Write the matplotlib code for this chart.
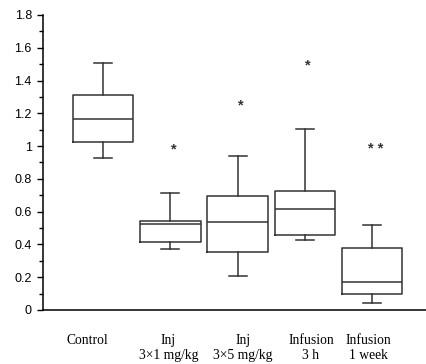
import matplotlib
matplotlib.use('Agg')
from matplotlib import pyplot as plt
from matplotlib.ticker import MultipleLocator

# group labels and box statistics
groups = ['Control', 'Inj\n3\u00d71 mg/kg', 'Inj\n3\u00d75 mg/kg', 'Infusion\n3 h', 'Infusion\n1 week']
whis_lo = [0.93, 0.37, 0.21, 0.425, 0.045]
q1 = [1.025, 0.413, 0.352, 0.458, 0.10]
median = [1.165, 0.523, 0.537, 0.614, 0.173]
q3 = [1.31, 0.545, 0.697, 0.726, 0.376]
whis_hi = [1.51, 0.712, 0.94, 1.106, 0.519]

# significance marks above groups 2..5
sig_marks = ['*', '*', '*', '* *']
sig_y = [0.98, 1.25, 1.49, 0.98]


def main():
    fig = plt.figure(figsize=(4.26, 3.64), dpi=100)
    ax = fig.add_axes([0.101, 0.1484, 0.899, 0.8104])

    stats = []
    for i in range(len(groups)):
        stats.append({'med': median[i], 'q1': q1[i], 'q3': q3[i],
                      'whislo': whis_lo[i], 'whishi': whis_hi[i], 'fliers': []})
    pos = list(range(1, len(groups) + 1))
    line = dict(color='#333333', linewidth=1.1)
    ax.bxp(stats, positions=pos, widths=0.9, capwidths=0.27, showfliers=False,
           boxprops=line, medianprops=line, whiskerprops=line, capprops=line)

    for p, m, y in zip(pos[1:], sig_marks, sig_y):
        ax.text(p + 0.05, y, m, ha='center', va='center', fontsize=10.5,
                fontweight='bold', color='#333333', family='Liberation Sans')

    ax.set_xlim(0.108, 5.80)
    ax.set_ylim(0, 1.8)
    ax.set_yticks([0, 0.2, 0.4, 0.6, 0.8, 1.0, 1.2, 1.4, 1.6, 1.8])
    ax.set_yticklabels(['0', '0.2', '0.4', '0.6', '0.8', '1', '1.2', '1.4', '1.6', '1.8'],
                       family='Liberation Sans', fontsize=9)
    ax.yaxis.set_minor_locator(MultipleLocator(0.1))
    ax.tick_params(axis='y', which='major', length=4.5, width=1.0, pad=3.5)
    ax.tick_params(axis='y', which='minor', length=3, width=1.0)

    ax.set_xticks([0.77, 1.97, 3.08, 4.09, 4.95])
    ax.set_xticklabels(groups, family='Liberation Serif', fontsize=9.8)
    ax.tick_params(axis='x', length=0, pad=17.5)

    for s in ('top', 'right'):
        ax.spines[s].set_visible(False)
    ax.spines['left'].set_linewidth(1.1)
    ax.spines['bottom'].set_linewidth(1.1)

    fig.savefig('out.png', dpi=100)


if __name__ == '__main__':
    main()
